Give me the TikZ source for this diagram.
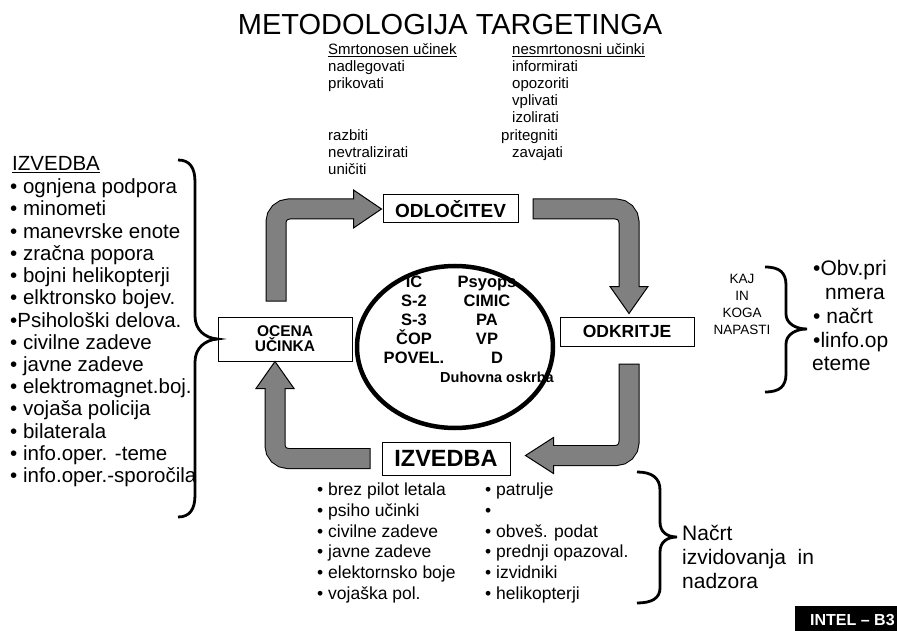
\documentclass[tikz,border=0pt]{standalone}
\usepackage{fontspec}
\setmainfont{Liberation Sans}
\usetikzlibrary{calc,shapes.geometric}

\definecolor{arrowgray}{RGB}{128,128,128}

\tikzset{
  txt/.style={anchor=west, inner sep=0pt, text height=0.72em, text depth=0.2em},
  toplist/.style={txt, font=\fontsize{15}{17}\selectfont},
  sidelist/.style={txt, font=\fontsize{20.5}{22}\selectfont},
  btmlist/.style={txt, font=\fontsize{17.5}{20}\selectfont},
  tgtlist/.style={txt, font=\fontsize{21}{24}\selectfont},
  caps/.style={inner sep=0pt, text height=0.72em, text depth=0pt, font=\bfseries\fontsize{16.5}{19}\selectfont},
  stepbox/.style={draw=black, line width=1pt, fill=white, inner sep=0pt, align=center},
  fatshaft/.style={draw=black, line width=21pt, rounded corners=13pt, shorten <=-1pt,
    postaction={draw=arrowgray, line width=19pt, shorten <=0pt, shorten >=-2pt}},
  fathead/.style={fill=arrowgray, draw=black, line width=1pt, line join=miter},
  curly/.style={draw=black, line width=2.8pt},
}

\begin{document}
\begin{tikzpicture}[x=1pt, y=-1pt]
    \useasboundingbox (0,0) rectangle (897,631);

    % Title
    \node[inner sep=0pt, font=\fontsize{29}{29}\selectfont] (title) at (450,25) {METODOLOGIJA TARGETINGA};

    % Lethal effects
    \node[toplist] (lethhead) at (328,52) {\underline{Smrtonosen učinek}};
    \foreach \k/\t in {1/nadlegovati, 2/prikovati, 5/razbiti, 6/nevtralizirati, 7/uničiti} {
      \node[toplist] (leth\k) at (328, 52+17.1*\k) {\t};
    }

    % Non-lethal effects
    \node[toplist] (nonlethhead) at (512,52) {\underline{nesmrtonosni učinki}};
    \foreach \k/\t in {1/informirati, 2/opozoriti, 3/vplivati, 4/izolirati, 6/zavajati} {
      \node[toplist] (nonleth\k) at (512, 52+17.1*\k) {\t};
    }
    \node[toplist] (nonleth5) at (501, 52+17.1*5) {pritegniti};

    % Execution assets (left)
    \node[sidelist] (exehead) at (12,168) {\underline{IZVEDBA}};
    \foreach \t [count=\i] in {• ognjena podpora, • minometi, • manevrske enote, • zračna popora,
        • bojni helikopterji, • elktronsko bojev., •Psihološki delova., • civilne zadeve,
        • javne zadeve, • elektromagnet.boj., • vojaša policija, • bilaterala,
        • info.oper. -teme, • info.oper.-sporočila} {
      \node[sidelist] (exe\i) at (10, 169+22.2*\i) {\t};
    }

    % Staff in the centre
    \foreach \t [count=\i] in {IČ, S-2, S-3, ČOP, POVEL.} {
      \node[caps] (staff\i) at (414, 265.1+18.9*\i) {\t};
    }
    \foreach \t [count=\i] in {Psyops, CIMIC, PA, VP} {
      \node[caps] (spec\i) at (487, 265.1+18.9*\i) {\t};
    }
    \node[caps] (spec5) at (497, 359.6) {D};
    \node[caps, font=\bfseries\fontsize{14.5}{15}\selectfont] (chaplain) at (497,379) {Duhovna oskrba};
    \node[draw, ellipse, line width=4.5pt, minimum width=196pt, minimum height=162pt, inner sep=0pt] (core) at (455,347) {};

    % Cycle steps
    \node[stepbox, minimum width=135pt, minimum height=28pt, font=\bfseries\fontsize{19}{19}\selectfont] (odlocitev) at (450.5,209) {ODLOČITEV};
    \node[stepbox, minimum width=134pt, minimum height=29pt, font=\bfseries\fontsize{17.5}{17.5}\selectfont] (odkritje) at (627,331.5) {ODKRITJE};
    \node[stepbox, minimum width=128pt, minimum height=33pt, font=\bfseries\fontsize{23.5}{23.5}\selectfont] (izvedba) at (446,458.5) {IZVEDBA};
    \node[stepbox, minimum width=134pt, minimum height=44pt, font=\bfseries\fontsize{15.5}{15}\selectfont] (ocena) at (285,339) {OCENA\\UČINKA};

    % OCENA -> ODLOCITEV
    \coordinate (tip1) at ($(odlocitev.west)+(-1,0)$);
    \filldraw[fathead] ($(tip1)+(-28,-19)$) -- (tip1) -- ($(tip1)+(-28,19)$) -- cycle;
    \draw[fatshaft] ($(ocena.north)+(-9,-16)$) |- ($(tip1)+(-28,0)$);

    % ODLOCITEV -> ODKRITJE
    \coordinate (tip2) at ($(odkritje.north)+(2,-3)$);
    \filldraw[fathead] ($(tip2)+(-19,-27)$) -- (tip2) -- ($(tip2)+(19,-27)$) -- cycle;
    \draw[fatshaft] ($(odlocitev.east)+(15,0)$) -| ($(tip2)+(0,-27)$);

    % ODKRITJE -> IZVEDBA
    \coordinate (tip3) at ($(izvedba.east)+(15,-3)$);
    \filldraw[fathead] ($(tip3)+(28,-18)$) -- (tip3) -- ($(tip3)+(28,18)$) -- cycle;
    \draw[fatshaft] ($(odkritje.south)+(2,18)$) |- ($(tip3)+(28,0)$);

    % IZVEDBA -> OCENA
    \coordinate (tip4) at ($(ocena.south)+(-10,0)$);
    \filldraw[fathead] ($(tip4)+(-19,27)$) -- (tip4) -- ($(tip4)+(19,27)$) -- cycle;
    \draw[fatshaft] ($(izvedba.west)+(-12,0)$) -| ($(tip4)+(0,27)$);

    % Left brace to OCENA
    \draw[curly] (178,160) .. controls (190,160) and (195,168) .. (195,182) -- (195,316)
      .. controls (195,330) and (205,338) .. (ocena.west)
      .. controls (205,340) and (195,348) .. (195,362) -- (195,495)
      .. controls (195,509) and (190,517) .. (178,517);

    % What and whom to attack
    \node[inner sep=0pt, align=center, font=\fontsize{13.5}{17}\selectfont] (kaj) at (742,304) {KAJ\\IN\\KOGA\\NAPASTI};
    \draw[curly] (765,267) .. controls (780,267) and (786,273) .. (786,285) -- (786,314)
      .. controls (786,323) and (795,329) .. (807,329)
      .. controls (795,329) and (786,335) .. (786,344) -- (786,374)
      .. controls (786,386) and (780,392) .. (765,392);
    \node[tgtlist] (tgt1) at (813,273) {•Obv.pri};
    \node[tgtlist] (tgt2) at (825,297) {nmera};
    \node[tgtlist] (tgt3) at (813,321) {• načrt};
    \node[tgtlist] (tgt4) at (813,345) {•linfo.op};
    \node[tgtlist] (tgt5) at (812,368) {eteme};

    % Bottom lists
    \foreach \t [count=\i] in {• brez pilot letala, • psiho učinki, • civilne zadeve, • javne zadeve,
        • elektornsko boje, • vojaška pol.} {
      \node[btmlist] (btm\i) at (317, 472.3+20.7*\i) {\t};
    }
    \foreach \t [count=\i] in {• patrulje, •, • obveš. podat, • prednji opazoval., • izvidniki, • helikopterji} {
      \node[btmlist] (isr\i) at (485, 472.3+20.7*\i) {\t};
    }
    \draw[curly] (637,472) .. controls (652,472) and (660,478) .. (660,490) -- (660,522)
      .. controls (660,532) and (667,537) .. (677,537)
      .. controls (667,537) and (660,542) .. (660,552) -- (660,588)
      .. controls (660,598) and (652,603) .. (637,603);
    \foreach \t [count=\i] in {Načrt, izvidovanja\hspace{0.55em}in, nadzora} {
      \node[tgtlist, font=\fontsize{21}{24}\selectfont] (plan\i) at (682, 514+23.8*\i) {\t};
    }

    % Slide tag
    \fill[black] (795,606) rectangle (897,631);
    \node[anchor=west, inner sep=0pt, text=white, font=\bfseries\fontsize{16}{16}\selectfont] (intel) at (810,620) {INTEL – B3};
  \end{tikzpicture}
\end{document}
